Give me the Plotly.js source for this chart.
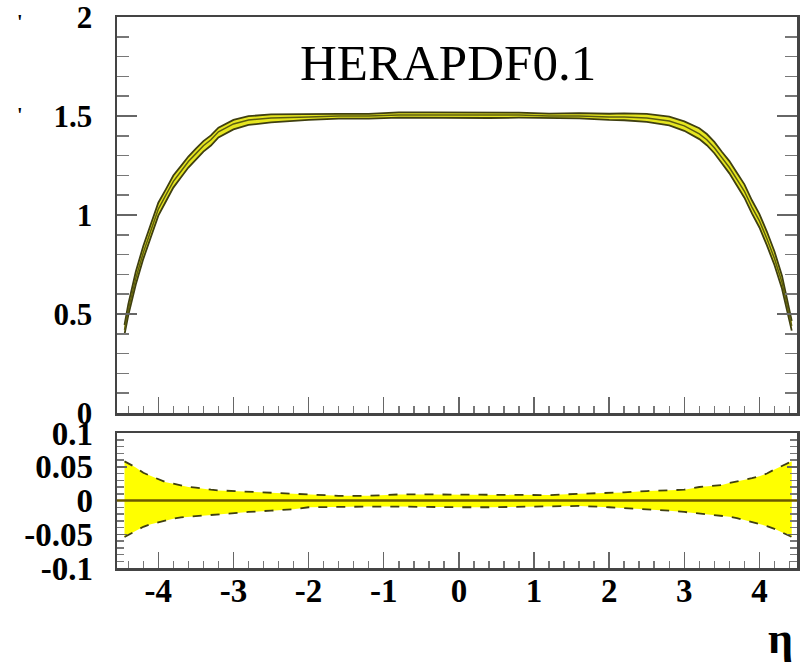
<!DOCTYPE html>
<html>
<head>
<meta charset="utf-8">
<script src="https://cdn.plot.ly/plotly-3.0.1.min.js"></script>
<style>html,body{margin:0;padding:0;background:#fff;}#chart{width:800px;height:666px;}</style>
</head>
<body>
<div id="chart"></div>
<script>
// pseudorapidity grid
const eta = [-4.45,-4.4,-4.3,-4.2,-4.1,-4.0,-3.9,-3.8,-3.7,-3.6,-3.5,-3.4,-3.3,-3.2,-3.0,-2.8,-2.5,-2.2,-2.0,-1.6,-1.2,-0.8,-0.4,0,0.4,0.8,1.2,1.6,2.0,2.2,2.5,2.8,3.0,3.2,3.3,3.4,3.5,3.6,3.7,3.8,3.9,4.0,4.1,4.2,4.3,4.4,4.43];
// central prediction (top panel)
const central = [0.42,0.52,0.68,0.81,0.92,1.03,1.10,1.17,1.22,1.27,1.31,1.35,1.38,1.42,1.46,1.48,1.49,1.495,1.495,1.50,1.50,1.505,1.505,1.505,1.505,1.505,1.50,1.50,1.495,1.495,1.49,1.475,1.45,1.41,1.38,1.34,1.29,1.24,1.18,1.12,1.04,0.97,0.88,0.78,0.66,0.50,0.44];
// relative uncertainty (bottom panel)
const errUp = [0.058,0.055,0.049,0.041,0.036,0.031,0.027,0.025,0.022,0.020,0.019,0.017,0.016,0.015,0.014,0.013,0.012,0.010,0.010,0.007,0.007,0.009,0.009,0.009,0.009,0.008,0.008,0.010,0.011,0.012,0.014,0.015,0.016,0.020,0.021,0.022,0.023,0.026,0.028,0.031,0.033,0.036,0.040,0.046,0.051,0.057,0.058];
const errDn = [-0.054,-0.051,-0.045,-0.039,-0.035,-0.032,-0.029,-0.027,-0.025,-0.024,-0.023,-0.022,-0.021,-0.020,-0.019,-0.017,-0.015,-0.013,-0.010,-0.009,-0.009,-0.009,-0.010,-0.010,-0.010,-0.009,-0.008,-0.008,-0.010,-0.011,-0.013,-0.015,-0.017,-0.019,-0.020,-0.021,-0.022,-0.024,-0.026,-0.029,-0.031,-0.034,-0.038,-0.042,-0.047,-0.053,-0.054];
// tick labels
const xTickVals = [-4,-3,-2,-1,0,1,2,3,4];
const xTickText = ['-4','-3','-2','-1','0','1','2','3','4'];
const y2TickVals = [-0.1,-0.05,0,0.05,0.1];
const y2TickText = ['-0.1','-0.05','0','0.05','0.1'];
const titleText = 'HERAPDF0.1';
const xLabel = 'η';

const YEL = '#ffff00', EDGE = '#3f3f10', MID = '#6b5a00';
const bandUpTop = central.map((v,i)=>v*(1+errUp[i]));
const bandDnTop = central.map((v,i)=>v*(1+errDn[i]));

const traces = [
  {x:eta, y:bandDnTop, xaxis:'x', yaxis:'y', mode:'lines', line:{color:EDGE,width:1.8}, hoverinfo:'skip'},
  {x:eta, y:bandUpTop, xaxis:'x', yaxis:'y', mode:'lines', fill:'tonexty', fillcolor:'#e6e620', line:{color:EDGE,width:1.8}, hoverinfo:'skip'},
  {x:eta, y:central, xaxis:'x', yaxis:'y', mode:'lines', line:{color:'#5c5c10',width:1.5}},
  {x:eta, y:errDn, xaxis:'x2', yaxis:'y2', mode:'lines', line:{color:EDGE,width:1.8,dash:'dash'}, hoverinfo:'skip'},
  {x:eta, y:errUp, xaxis:'x2', yaxis:'y2', mode:'lines', fill:'tonexty', fillcolor:YEL, line:{color:EDGE,width:1.8,dash:'dash'}, hoverinfo:'skip'}
];

const tf = (s)=>({family:'Liberation Serif, Times New Roman, serif', size:s, color:'#000', weight:'bold'});
const dom = [117/800, 797/800];
const common = {showgrid:false, zeroline:false, showline:true, linecolor:'#444', linewidth:2.5, ticks:'inside', tickcolor:'#666', tickwidth:1.5, ticklabeloverflow:'allow'};

const layout = {
  width:800, height:666,
  margin:{l:0,r:0,t:0,b:0},
  paper_bgcolor:'#fff', plot_bgcolor:'#fff',
  showlegend:false,
  xaxis:Object.assign({}, common, {domain:dom, anchor:'y', range:[-4.55,4.5], tickmode:'array', tickvals:xTickVals, ticklen:16, showticklabels:false, mirror:true,
    minor:{ticks:'inside', ticklen:7, dtick:0.2, tick0:0, tickcolor:'#777', tickwidth:1.5}}),
  yaxis:Object.assign({}, common, {domain:[(666-413)/666,(666-17)/666], anchor:'x', range:[0,2], dtick:0.5, tick0:0, ticklen:20, mirror:'ticks',
    tickfont:tf(31), ticklabelstandoff:16,
    minor:{ticks:'inside', ticklen:12, dtick:0.1, tick0:0, tickcolor:'#777', tickwidth:1.5}}),
  xaxis2:Object.assign({}, common, {domain:dom, anchor:'y2', range:[-4.55,4.5], tickmode:'array', tickvals:xTickVals, ticktext:xTickText, ticklen:16, mirror:true,
    tickfont:tf(33), ticklabelstandoff:-8,
    minor:{ticks:'inside', ticklen:7, dtick:0.2, tick0:0, tickcolor:'#777', tickwidth:1.5}}),
  yaxis2:Object.assign({}, common, {domain:[(666-568)/666,(666-433)/666], anchor:'x2', range:[-0.1,0.1], tickmode:'array', tickvals:y2TickVals, ticktext:y2TickText, ticklen:10, mirror:'ticks',
    tickfont:tf(33), ticklabelstandoff:15,
    minor:{ticks:'inside', ticklen:7, dtick:0.01, tick0:0, tickcolor:'#777', tickwidth:1.5}}),
  shapes:[
    {type:'line', xref:'x2 domain', yref:'y2', x0:0, x1:1, y0:0, y1:0, line:{color:MID,width:2.5}, layer:'above'}
  ],
  annotations:[
    {text:titleText, xref:'paper', yref:'paper', x:448/800, y:(666-63)/666, xanchor:'center', yanchor:'middle', showarrow:false,
     font:{family:'Liberation Serif, Times New Roman, serif', size:51, color:'#000'}},
    {text:xLabel, xref:'paper', yref:'paper', x:780/800, y:(666-638)/666, xanchor:'center', yanchor:'middle', showarrow:false,
     font:{family:'Liberation Serif, Times New Roman, serif', size:44, color:'#000', weight:'bold'}},
    {text:"'", xref:'paper', yref:'paper', x:20/800, y:(666-22)/666, xanchor:'center', yanchor:'middle', showarrow:false,
     font:{family:'Liberation Serif, serif', size:20, color:'#000', weight:'bold'}},
    {text:"'", xref:'paper', yref:'paper', x:20/800, y:(666-115)/666, xanchor:'center', yanchor:'middle', showarrow:false,
     font:{family:'Liberation Serif, serif', size:20, color:'#000', weight:'bold'}}
  ]
};

Plotly.newPlot('chart', traces, layout, {displayModeBar:false, staticPlot:true});
</script>
</body>
</html>
